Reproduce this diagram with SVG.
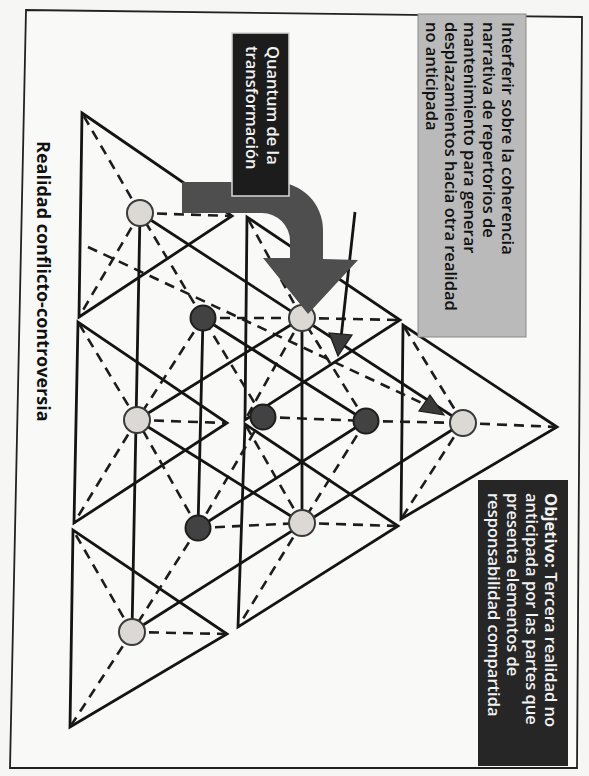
<svg xmlns="http://www.w3.org/2000/svg" width="589" height="776" viewBox="0 0 589 776">
<defs>
<style>
.tri{fill:none;stroke:#141414;stroke-width:2.8;stroke-linejoin:miter}
.d{fill:none;stroke:#1c1c1c;stroke-width:2.6;stroke-dasharray:10 7}
.s{fill:none;stroke:#141414;stroke-width:2.8}
.lc{fill:#dcd9d5;stroke:#3a3a3a;stroke-width:2}
.dc{fill:#424242;stroke:#1e1e1e;stroke-width:2}
.t{font-family:"Open Sans","Liberation Sans",sans-serif;font-size:16.5px;font-weight:600}
.w{fill:#f2f2f2}
</style>
</defs>
<rect width="589" height="776" fill="#f6f6f4"/>
<polygon id="frame" points="26,10 582,17 577,768 10,768" fill="#f9f9f7" stroke="#222" stroke-width="1.8"/>

<g id="triangles">
<polygon class="tri" points="82,113 79,317 232,216"/>
<polygon class="tri" points="78,322 74,523 227,423"/>
<polygon class="tri" points="73,530 70,727 227,634"/>
<polygon class="tri" points="247,217 245,420 400,320"/>
<polygon class="tri" points="245,424 238,627 398,526"/>
<polygon class="tri" points="403,325 401,519 557,427"/>
</g>

<g id="connectors">
<g id="dashed">
<path class="d" d="M140,213L82,113M140,213L79,317M140,213L232,216"/>
<path class="d" d="M137,420L78,322M137,420L74,523M137,420L227,423"/>
<path class="d" d="M132,632L73,530M132,632L70,727M132,632L227,634"/>
<path class="d" d="M302,318L247,217M302,318L245,420M302,318L400,320"/>
<path class="d" d="M302,523L245,424M302,523L238,627M302,523L398,526"/>
<path class="d" d="M463,423L403,325M463,423L401,519M463,423L557,427"/>
<path class="d" d="M203,318L140,213M203,318L137,420M203,318L302,318"/>
<path class="d" d="M198,528L137,420M198,528L132,632M198,528L302,523"/>
<path class="d" d="M366,421L302,318M366,421L302,523M366,421L463,423"/>
<path class="d" d="M263,417L203,318M263,417L198,528M263,417L366,421"/>
<path class="d" d="M88,247L424,404"/>
</g>
<g id="solid">
<path class="s" d="M140,213L132,632M132,632L463,423"/>
<path class="s" d="M140,213L463,423"/>
<path class="s" d="M137,420L302,318M137,420L302,523M302,318L302,523"/>
<path class="s" d="M203,318L198,528M203,318L366,421M198,528L366,421"/>
<path class="s" d="M355,212L341,338"/>
</g>
<polygon id="arrowhead-long" points="444,415 419,411 430,395" fill="#3a3a3a" stroke="#1a1a1a" stroke-width="1.2"/>
<polygon id="arrowhead-thin" points="338,356 329,333 352,335" fill="#3a3a3a" stroke="#1a1a1a" stroke-width="1.2"/>
</g>

<g id="n-t00"><circle class="lc" cx="140" cy="213" r="13"/></g>
<g id="n-t01"><circle class="lc" cx="137" cy="420" r="13"/></g>
<g id="n-t02"><circle class="lc" cx="132" cy="632" r="13"/></g>
<g id="n-t10"><circle class="lc" cx="302" cy="318" r="13"/></g>
<g id="n-t11"><circle class="lc" cx="302" cy="523" r="13"/></g>
<g id="n-t20"><circle class="lc" cx="463" cy="423" r="13"/></g>
<g id="n-i00"><circle class="dc" cx="203" cy="318" r="12.5"/></g>
<g id="n-i01"><circle class="dc" cx="198" cy="528" r="12.5"/></g>
<g id="n-i10"><circle class="dc" cx="366" cy="421" r="12.5"/></g>
<g id="n-center"><circle class="dc" cx="263" cy="417" r="12.5"/></g>

<g id="quantum-arrow">
<path d="M182,182 L275,182 A48,48 0 0 1 323,230 L323,259 L358,260 L308,314 L263,258 L290,258 L290,241 A28,28 0 0 0 262,213 L182,213 Z" fill="#4e4e4e"/>
</g>

<g id="quantum-label">
<rect x="232" y="33" width="57" height="163" fill="#1c1c1c" stroke="#d8d8d8" stroke-width="1.5"/>
<text class="t w" transform="translate(267,46) rotate(90)">Quantum de la</text>
<text class="t w" transform="translate(246,46) rotate(90)">transformación</text>
</g>

<g id="interferir">
<rect x="418" y="14" width="108" height="323" fill="#bababa" stroke="#8a8a8a" stroke-width="1"/>
<text class="t" fill="#111" transform="translate(502,22) rotate(90)">Interferir sobre la coherencia</text>
<text class="t" fill="#111" transform="translate(483,22) rotate(90)">narrativa de repertorios de</text>
<text class="t" fill="#111" transform="translate(464,22) rotate(90)">mantenimiento para generar</text>
<text class="t" fill="#111" transform="translate(445,22) rotate(90)">desplazamientos hacia otra realidad</text>
<text class="t" fill="#111" transform="translate(426,22) rotate(90)">no anticipada</text>
</g>

<g id="objetivo">
<rect x="478" y="480" width="90" height="286" fill="#262626"/>
<text class="t w" transform="translate(545,493) rotate(90)"><tspan font-weight="bold">Objetivo:</tspan> Tercera realidad no</text>
<text class="t w" transform="translate(526,493) rotate(90)">anticipada por las partes que</text>
<text class="t w" transform="translate(507,493) rotate(90)">presenta elementos de</text>
<text class="t w" transform="translate(488,493) rotate(90)">responsabilidad compartida</text>
</g>

<g id="title">
<text class="t" font-size="18" font-weight="bold" style="font-size:18px;font-weight:700" fill="#111" transform="translate(37,141) rotate(90)">Realidad conflicto-controversia</text>
</g>
</svg>
